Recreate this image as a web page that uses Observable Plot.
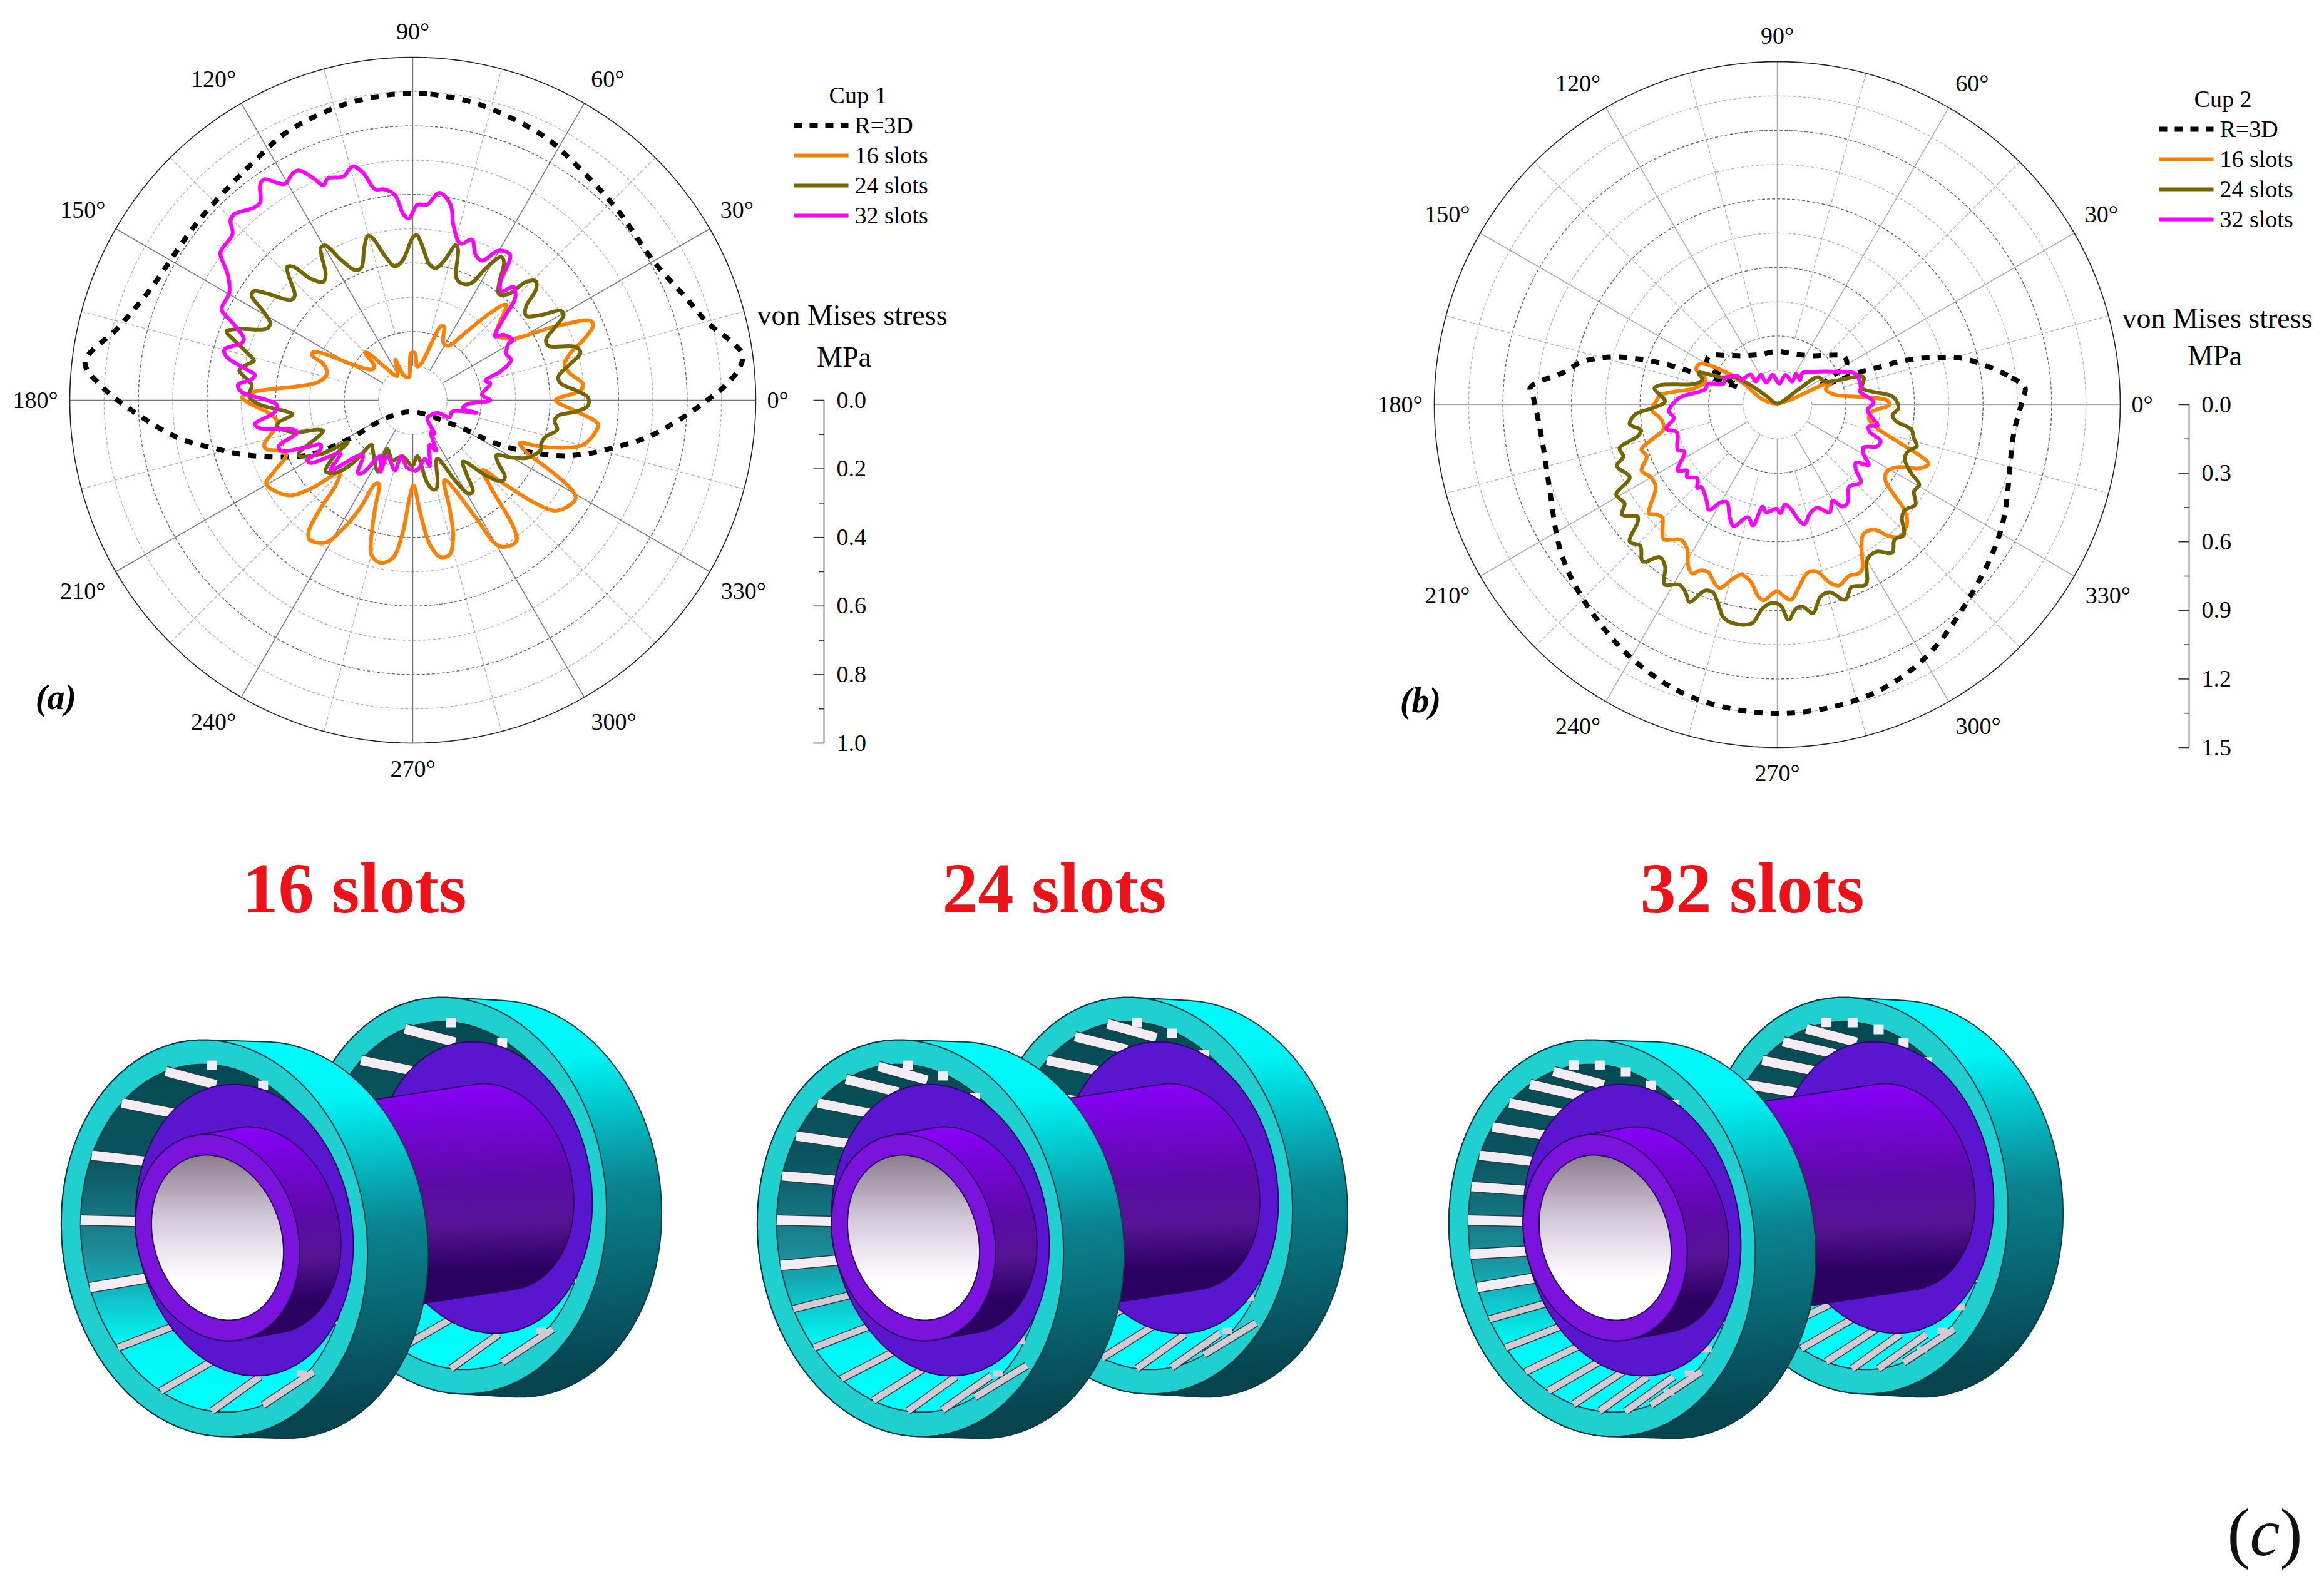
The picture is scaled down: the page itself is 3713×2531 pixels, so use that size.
<!DOCTYPE html>
<html><head><meta charset="utf-8">
<script src="https://cdn.jsdelivr.net/npm/d3@7"></script>
<script src="https://cdn.jsdelivr.net/npm/@observablehq/plot@0.6"></script>
<style>html,body{margin:0;padding:0;background:#fff;overflow:hidden}#fig{position:relative;width:3713px;height:2531px}#fig svg{position:absolute;display:block;overflow:visible}</style>
</head><body><div id="fig"></div>
<script>
// ---------- Cup 1 (panel a): angle in degrees, von Mises stress in MPa ----------
const cup1Names=["R=3D","16 slots","24 slots","32 slots"];
const cup1BaseAngle=[90,86.7,77.2,64,56.9,43.1,29.8,20.7,14.8,10.3,7.8,5.3,2.3,0,356.3,351.1,346.7,342.3,338.7,333.1,329.3,270,213.9,211.1,207.3,198.7,193.4,189.1,182,177.7,173.4,166,157.1,139.6,122.2,115.1,103.9,94.9];
const cup1BaseStress=[.894,.894,.884,.86,.84,.815,.811,.85,.888,.946,.971,.953,.905,.858,.788,.694,.602,.52,.444,.292,.143,.034,.092,.227,.351,.502,.6,.693,.821,.903,.962,.883,.831,.815,.84,.864,.884,.893];
const cup1S16Angle=[177.1,169.1,162.9,157.9,156.1,154.2,152.2,148.5,142.4,138,135.2,133.5,130.8,122.4,113.4,110.3,100.2,92,87.5,82.4,77.2,69.2,67.2,61.9,57.1,51.9,48.3,45.6,38,32,27.7,24.1,22.4,19.4,16.7,13,9.5,5.6,3.4,0,356.5,352.7,350,345.3,342.8,339.9,338.2,335.4,333.1,330.8,329,324.9,321.9,319.8,317.5,315,311.7,308.4,306.3,301.9,299.7,298.3,291.6,288.8,286.6,283.3,279.7,276.7,273.6,270.5,268.2,265.6,262.7,258.7,255.1,252.8,250.7,247.9,245.7,244,241.1,238.5,233.5,231.6,229.5,227.8,224.7,220.9,217.4,209.7,207.2,203.3,200.6,198.5,196.7,191,188.8,185,181,179.1];
const cup1S16Stress=[.468,.281,.262,.282,.321,.322,.287,.188,.148,.152,.196,.19,.135,.084,.129,.078,.068,.138,.138,.099,.109,.231,.234,.189,.189,.254,.344,.39,.31,.338,.455,.568,.568,.526,.48,.454,.466,.498,.49,.417,.469,.544,.54,.513,.467,.391,.336,.363,.443,.527,.554,.545,.521,.461,.361,.288,.344,.473,.51,.504,.478,.393,.25,.332,.412,.464,.463,.423,.323,.248,.281,.388,.464,.483,.468,.405,.333,.263,.268,.349,.437,.487,.506,.489,.413,.335,.301,.393,.456,.492,.455,.402,.418,.45,.453,.405,.4,.422,.478,.498];
const cup1S24Angle=[159.7,157.7,154,151.7,149.4,147,145.5,143.6,140.5,138.4,134.9,133.3,131.8,130,127,124.7,122.3,121.1,119.4,117.2,113.8,111.1,107.7,105.3,103.9,100.9,97.6,94.2,89.8,88.5,86.6,82.9,80.1,77.3,74.5,73.3,70.1,66.1,63.3,60.9,58.3,56.6,53.4,51,47.9,46.3,44,41.9,39.6,36.8,33.6,31.2,29.4,26.9,24.3,21.9,18.1,15.8,13,9.2,6.5,3.5,.9,358.2,356,353.9,351.6,348.5,344.7,341.4,339.1,333.7,329.8,326.7,324.1,320.2,317.6,314.7,309.2,306,303.4,301,298.1,292.5,285.7,283,279.9,274.6,269.6,259.6,251.4,242.6,243.9,230.7,227.3,226.3,223.3,219.3,215.7,212.8,210.7,206.3,205,199,197.3,195.1,191,189.4,186.7,185.1,181.5,178.6,174.5,170.4,169.3,166.8,166.1,163.4,161.4];
const cup1S24Stress=[.579,.547,.475,.472,.504,.56,.562,.522,.46,.46,.513,.534,.522,.462,.433,.446,.497,.519,.518,.462,.414,.415,.466,.497,.487,.428,.394,.408,.477,.481,.453,.398,.391,.417,.469,.459,.376,.37,.383,.443,.491,.483,.421,.399,.418,.477,.499,.482,.428,.412,.449,.504,.505,.46,.426,.426,.5,.508,.472,.43,.434,.476,.511,.511,.476,.426,.418,.43,.402,.395,.4,.377,.332,.292,.305,.35,.35,.315,.231,.267,.318,.318,.272,.185,.263,.268,.244,.164,.191,.166,.185,.161,.232,.185,.177,.253,.309,.328,.286,.225,.304,.368,.367,.276,.289,.36,.402,.396,.353,.37,.449,.478,.472,.513,.508,.483,.477,.513,.55];
const cup1S32Angle=[317.4,332.5,335.4,343.9,348.8,350.7,355.6,0,4.6,12.2,15.1,18.4,22.4,26.1,30.8,31,35.7,37.9,42.1,44.9,48.3,50.9,53.3,56.2,60.1,63.7,66.7,69.8,73,76.9,79.1,82.7,85.8,88.7,91.3,92.9,95,97.8,100.1,102.4,104.4,107.3,110.9,112.6,113.9,116.4,118,120.6,124,125.4,127.6,129.5,133.9,135.4,137.3,141.7,142.7,146,149.6,154.6,156.6,160,161.5,165,166.9,169.2,171,172.6,175,177.2,180,182.3,185.2,188.5,190.2,193.9,195.6,198.9,201,203.7,205.9,208.4,209.6,211.6,216.3,220.4,227.4,233,235.4,239.8,245.5,245.6,255.7,258.2,265.3,273.6,281.6,284.4,290.7,294.5,299.4,302.7,308.4];
const cup1S32Stress=[.067,.08,.118,.119,.19,.148,.157,.226,.202,.231,.219,.272,.31,.304,.326,.34,.327,.304,.358,.421,.442,.409,.427,.51,.503,.454,.462,.499,.477,.523,.581,.61,.572,.57,.53,.543,.601,.621,.625,.68,.704,.683,.693,.679,.705,.748,.748,.733,.777,.769,.729,.728,.752,.747,.715,.71,.706,.65,.62,.617,.575,.524,.526,.569,.557,.501,.466,.474,.512,.5,.424,.395,.407,.465,.456,.358,.35,.413,.411,.344,.298,.309,.354,.349,.262,.315,.216,.266,.257,.189,.229,.179,.211,.167,.197,.204,.175,.197,.139,.162,.108,.116,.068];
// ---------- Cup 2 (panel b) ----------
const cup2BaseAngle=[3.9,7.2,13,14.9,16.6,18.3,19.5,20.1,21.5,21.8,23.3,27.4,29.7,35.9,44,56,72.4,90,108,125.6,136.4,144.8,150.4,155.4,156.9,157.7,159.1,159.8,160.8,162.1,163.6,165.7,168.1,171.2,176.1,178.4,189.4,199,214.7,226.3,240.5,253.8,270,286.5,299.8,315.1,331,353.1,1.5];
const cup2BaseStress=[1.086,1.015,.865,.801,.719,.636,.556,.474,.392,.296,.207,.271,.349,.36,.311,.258,.232,.232,.231,.263,.313,.366,.35,.185,.232,.317,.404,.487,.575,.656,.737,.817,.885,.94,1.083,1.067,1.04,1.057,1.148,1.208,1.281,1.333,1.351,1.335,1.285,1.19,1.12,1.042,1.075];
const cup2S16Angle=[90,23.7,22.7,17.5,9.7,5.3,2.3,0,355.3,351.2,346.9,342.6,340.2,338.6,336.1,332.4,328.5,325,322.2,320.5,317.9,312.9,310.4,307.7,303.7,300.7,297.3,295.6,292.7,288.8,286.4,283.3,280.3,276.6,274,271.7,270,267.8,266,264.4,261.4,258.1,255.9,252.5,250.5,247.4,245,243.3,241.1,237.9,234.4,229.9,227.7,224.5,222.1,220.2,218.3,214.1,209.8,205.9,201.6,198.3,195.3,192,186.9,182.5,178.5,175.2,168.7,162.3,158.7,156.5,152.2,146.8,148.5,160];
const cup2S16Stress=[.005,.226,.261,.222,.256,.367,.479,.49,.412,.405,.446,.562,.666,.71,.686,.591,.561,.577,.649,.717,.766,.787,.756,.691,.68,.72,.81,.819,.812,.836,.811,.75,.746,.807,.856,.835,.816,.836,.858,.844,.782,.76,.782,.841,.826,.791,.8,.827,.806,.743,.726,.771,.747,.705,.716,.737,.706,.642,.638,.66,.614,.626,.563,.508,.513,.549,.531,.511,.368,.332,.344,.387,.382,.228,.157,.07];
const cup2S24Angle=[90,35.8,34,26,22,17.7,11,8,3.8,358.5,354.6,352.1,349.4,346,343.4,340.1,336.7,332.8,330.6,327.6,324.1,320.4,317.8,314.1,311,307.8,304,300.2,296.2,292.2,289.2,285.6,282.7,279.7,277.1,275.2,273,270.9,268.3,265.8,263.4,258.7,255.8,253.4,251.1,248.8,246,244,241.4,238,235.2,232.4,229.4,225.9,222.9,220.1,218.7,215.3,212.9,209.2,206.2,201,198.6,195.5,192.5,190.4,187.6,184,181.5,178.4,172.4,170.4,165.9,161.4,158,154.1,147.9,143.5,141.7];
const cup2S24Stress=[.005,.115,.215,.23,.284,.396,.378,.415,.508,.53,.506,.524,.597,.616,.637,.606,.607,.66,.713,.708,.746,.724,.736,.795,.782,.82,.776,.783,.877,.861,.904,.852,.861,.925,.89,.897,.942,.878,.869,.895,.963,.976,.96,.907,.868,.872,.945,.914,.896,.928,.86,.842,.904,.861,.881,.798,.783,.832,.795,.807,.719,.751,.71,.716,.62,.609,.651,.623,.543,.491,.542,.516,.372,.345,.371,.275,.226,.138,.055];
const cup2S32Angle=[144.3,145,131.6,132.9,118.6,117,98.7,85,74.5,57.2,58.5,47.5,51.6,41.8,30.9,21.3,11.2,9.2,1.4,356.5,348.3,346.5,343.5,340.7,337.5,333.6,330.2,326.6,323.5,320.5,317,311.2,306,302.7,299.8,296,291,286.9,282.7,280.5,277.4,274.4,271.7,269.6,264,261.8,258.6,255.4,250.2,247.1,242.8,240,237,233.4,227.2,226.2,222.6,218.7,216.1,213.5,206.9,204.4,195.3,192.3,187.3,183.5,176.1,168,163.3,158.9,153.4];
const cup2S32Stress=[.214,.192,.176,.138,.15,.108,.132,.093,.135,.12,.157,.147,.177,.216,.281,.368,.372,.365,.422,.395,.448,.411,.422,.478,.475,.421,.434,.479,.427,.445,.499,.477,.526,.53,.485,.523,.483,.496,.536,.513,.46,.438,.475,.456,.473,.451,.539,.509,.564,.535,.48,.493,.549,.52,.49,.506,.476,.506,.489,.522,.455,.478,.456,.497,.456,.475,.43,.323,.317,.253,.257];
// ---------- Axes and labels ----------
const angleTicks=d3.range(0,360,30);
const minorAngles=d3.range(15,360,30);
const angleLabelX=[1.064,.945,.568,0,-.581,-.962,-1.10,-.962,-.581,0,.586,.964];
const angleLabelY=[0,.554,.935,1.075,.935,.554,0,-.557,-.938,-1.075,-.938,-.557];
const cup1RadialLabels=["0.0","0.2","0.4","0.6","0.8","1.0"];
const cup2RadialLabels=["0.0","0.3","0.6","0.9","1.2","1.5"];
const seriesColors=["#000000","#ff8000","#736600","#ff00ff"];
const titles=["16 slots","24 slots","32 slots"];
const slotCounts=[16,24,32];
const FONT='"Liberation Serif","Times New Roman",serif';
const rad=d=>d*Math.PI/180;
const zip=(a,s)=>a.map((t,i)=>({t,r:s[i]}));

function panel(c){
  const unit=548/c.rMax, X=p=>(p-c.cx)/unit, Y=p=>(c.cy-p)/unit, R=c.rMax;
  const ringPts=f=>f.flatMap(k=>d3.range(0,361,2).map(a=>({k,x:k*R*Math.cos(rad(a)),y:k*R*Math.sin(rad(a))})));
  const px=d=>d.r*Math.cos(rad(d.t)), py=d=>d.r*Math.sin(rad(d.t));
  const spoke=(list,from,opts)=>Plot.link(list,{x1:a=>from*R*Math.cos(rad(a)),y1:a=>from*R*Math.sin(rad(a)),x2:a=>R*Math.cos(rad(a)),y2:a=>R*Math.sin(rad(a)),...opts});
  const tickVals=d3.range(0,11).map(i=>i*R/10);
  const marks=[
    Plot.line(ringPts([.1,.3,.5,.7,.9]),{x:"x",y:"y",z:"k",stroke:"#b4b4b4",strokeWidth:1.4,strokeDasharray:"5,3",strokeLinecap:"butt"}),
    Plot.line(ringPts([.2,.4,.6,.8]),{x:"x",y:"y",z:"k",stroke:"#666",strokeWidth:1.4,strokeDasharray:"5,3",strokeLinecap:"butt"}),
    spoke(minorAngles,.2,{stroke:"#b4b4b4",strokeWidth:1.4,strokeDasharray:"6,3",strokeLinecap:"butt"}),
    spoke(angleTicks,.1,{stroke:c.spoke,strokeWidth:1.5}),
    Plot.line(ringPts([1]),{x:"x",y:"y",stroke:"#222",strokeWidth:1.6}),
    Plot.text(angleTicks,{x:(a,i)=>angleLabelX[i]*R,y:(a,i)=>angleLabelY[i]*R,text:a=>a+"°",fontSize:38,fontFamily:FONT,lineAnchor:"middle",fill:"#000"}),
    // radial axis
    Plot.ruleX([X(c.axisX)],{y1:0,y2:-R,stroke:"#333",strokeWidth:1.6}),
    Plot.link(tickVals,{x1:X(c.axisX),x2:(d,i)=>X(c.axisX-(i%2?8:17)),y1:d=>-d,y2:d=>-d,stroke:"#333",strokeWidth:1.6}),
    Plot.text(c.radial,{x:X(c.axisX+20),y:d=>-(+d),text:d=>d,textAnchor:"start",fontSize:38,fontFamily:FONT,lineAnchor:"middle",fill:"#000"}),
    Plot.text(["von Mises stress"],{x:X(c.vmX),y:Y(c.vmY),text:d=>d,fontSize:46,fontFamily:FONT,lineAnchor:"middle",fill:"#000"}),
    Plot.text(["MPa"],{x:X(c.mpaX),y:Y(c.mpaY),text:d=>d,fontSize:46,fontFamily:FONT,lineAnchor:"middle",fill:"#000"}),
    Plot.text([c.tag],{x:X(c.tagX),y:Y(c.tagY),text:d=>d,fontSize:56,fontFamily:FONT,fontWeight:"bold",fontStyle:"italic",lineAnchor:"middle",fill:"#000"}),
    // curves
    Plot.line(zip(c.base[0],c.base[1]),{x:px,y:py,stroke:seriesColors[0],strokeWidth:8,strokeDasharray:"13,13",strokeLinecap:"butt",curve:"catmull-rom-closed"}),
    ...c.curves.map((s,i)=>Plot.line(zip(s[0],s[1]),{x:px,y:py,stroke:seriesColors[i+1],strokeWidth:6,curve:"catmull-rom-closed",strokeLinejoin:"round"})),
    // legend
    Plot.text([c.legend],{x:X(c.legX+102),y:Y(c.legY-48),text:d=>d,fontSize:38,fontFamily:FONT,lineAnchor:"middle",fill:"#000"}),
    ...cup1Names.map((n,i)=>Plot.link([n],{x1:X(c.legX),x2:X(c.legX+87),y1:Y(c.legY+48*i),y2:Y(c.legY+48*i),stroke:seriesColors[i],strokeWidth:i?6:8,strokeLinecap:"butt",strokeDasharray:i?null:"13,12"})),
    Plot.text(cup1Names,{x:X(c.legX+97),y:(d,i)=>Y(c.legY+48*i),text:d=>d,textAnchor:"start",fontSize:38,fontFamily:FONT,lineAnchor:"middle",fill:"#000"})
  ];
  const svg=Plot.plot({width:c.w,height:c.h,margin:0,
    x:{domain:[X(c.left),X(c.left+c.w)],range:[0,c.w],axis:null},
    y:{domain:[Y(c.top),Y(c.top+c.h)],range:[0,c.h],axis:null},
    style:{fontFamily:FONT,background:"transparent",overflow:"visible"},marks});
  svg.style.left=c.left+"px";svg.style.top=c.top+"px";
  return svg;
}

const fig=document.getElementById("fig");
fig.append(panel({cx:659,cy:639,left:0,top:0,w:1856,h:1260,rMax:1,spoke:"#777",radial:cup1RadialLabels,axisX:1316,
  vmX:1361,vmY:504,mpaX:1348,mpaY:571,tag:"(a)",tagX:89,tagY:1115,legend:"Cup 1",legX:1268,legY:200,
  base:[cup1BaseAngle,cup1BaseStress],curves:[[cup1S16Angle,cup1S16Stress],[cup1S24Angle,cup1S24Stress],[cup1S32Angle,cup1S32Stress]]}));
fig.append(panel({cx:2839,cy:646,left:1856,top:0,w:1857,h:1260,rMax:1.5,spoke:"#aaa",radial:cup2RadialLabels,axisX:3497,
  vmX:3542,vmY:509,mpaX:3538,mpaY:569,tag:"(b)",tagX:2269,tagY:1120,legend:"Cup 2",legX:3449,legY:206,
  base:[cup2BaseAngle,cup2BaseStress],curves:[[cup2S16Angle,cup2S16Stress],[cup2S24Angle,cup2S24Stress],[cup2S32Angle,cup2S32Stress]]}));

// ---------- Panel (c): three slotted-cup assemblies ----------
const ell=(cx,cy,rx,ry,sk=-18)=>d3.range(0,361,4).map(a=>[cx+rx*Math.cos(rad(a))+sk*Math.sin(rad(a)),cy-ry*Math.sin(rad(a))]);
const hull=(a,b)=>{const h=d3.polygonHull(a.concat(b));h.push(h[0]);return h;};
const shape=(pts,fill,stroke="#0b3a40")=>Plot.line(pts,{x:d=>d[0],y:d=>d[1],fill,stroke,strokeWidth:2});
function slots(cx,cy,n){
  const rows=d3.range(n).map(i=>{
    const a=174+360*i/n, c=Math.cos(rad(a)), s=Math.sin(rad(a));
    const x=cx+213*c-18*s, y=cy-278*s;
    const long=(s>0&&c<-.1)||(s<=0&&c<.45);
    const dx=long?75+20*Math.abs(c):-16, dy=!long?0:(s>0?-.08:-.2)*(y-cy);
    return {x,y,x2:x+dx,y2:y+dy,long,low:s<-.3};
  });
  const up=rows.filter(d=>!d.low), low=rows.filter(d=>d.low);
  const link=(list,stroke,strokeWidth)=>Plot.link(list,{x1:"x",y1:"y",x2:"x2",y2:"y2",stroke,strokeWidth,strokeLinecap:"butt"});
  return [
    link(up.filter(d=>d.long),"#2b3b40",18), link(up,"#f1edf3",15),
    link(low.filter(d=>d.long),"#2b3b40",13), link(low,"#d2cbd4",10)
  ];
}
function assembly(dx,extra,n){
  const fc=[342+dx,1978], rc=[724+dx+extra,1910], rd=dx+extra;
  return [
    shape(hull(ell(rc[0],rc[1],244,317),ell(rc[0]+88,rc[1]+5,244,317)),"url(#cupOuter)"),
    shape(ell(rc[0],rc[1],244,317),"#20cfd0"),
    shape(ell(rc[0],rc[1],213,278),"url(#cupInner)"),
    ...slots(rc[0],rc[1],n),
    shape(ell(772+rd,1897,173,233),"#5a16cf","#2a0a60"),
    shape(hull(ell(790+rd,1896,125,165),ell(560+rd,1931,125,165)),"url(#shaft)","#2a0a60"),
    shape(hull(ell(fc[0],fc[1],244,317),ell(fc[0]+97,fc[1]+3,244,317)),"url(#cupOuter)"),
    shape(ell(fc[0],fc[1],244,317),"#20cfd0"),
    shape(ell(fc[0],fc[1],213,278),"url(#cupInner)"),
    ...slots(fc[0],fc[1],n),
    shape(ell(390+dx,1965,173,233),"#5a16cf","#2a0a60"),
    shape(hull(ell(347+dx,1977,130,165),ell(415+dx,1965,128,165)),"url(#shaft)","#2a0a60"),
    shape(ell(347+dx,1977,130,165),"#7a14dc","#2a0a60"),
    shape(ell(347+dx,1977,104,132),"url(#bore)","#2a0a60")
  ];
}
const defs=()=>{const g=document.createElementNS("http://www.w3.org/2000/svg","defs");
  g.innerHTML=`<linearGradient id="cupOuter" x1="0" y1="0" x2="0.1" y2="1"><stop offset="0" stop-color="#00ffff"/><stop offset=".22" stop-color="#00f4f6"/><stop offset=".55" stop-color="#0a8390"/><stop offset="1" stop-color="#064450"/></linearGradient>
  <linearGradient id="cupInner" x1="0" y1="0" x2="0" y2="1"><stop offset="0" stop-color="#044a52"/><stop offset=".28" stop-color="#0b5560"/><stop offset=".55" stop-color="#1d8e9a"/><stop offset=".8" stop-color="#00f6f6"/><stop offset="1" stop-color="#00ffff"/></linearGradient>
  <linearGradient id="shaft" x1="0" y1="0" x2="0.05" y2="1"><stop offset="0" stop-color="#8b00ff"/><stop offset=".45" stop-color="#5c0aa8"/><stop offset=".65" stop-color="#561494"/><stop offset=".85" stop-color="#2a0060"/><stop offset="1" stop-color="#2a0060"/></linearGradient>
  <linearGradient id="bore" x1="0" y1="0" x2="0" y2="1"><stop offset="0" stop-color="#8b7d8c"/><stop offset=".4" stop-color="#d6cbdc"/><stop offset=".75" stop-color="#ffffff"/><stop offset="1" stop-color="#ffffff"/></linearGradient>`;
  return g;};
const assemblyShift=[0,1112,2217];
const rearShift=[0,-16,22];
const titleX=[566,1684,2799];
const lower=Plot.plot({width:3713,height:1271,margin:0,
  x:{domain:[0,3713],range:[0,3713],axis:null},
  y:{domain:[1260,2531],range:[0,1271],axis:null},
  style:{fontFamily:FONT,background:"transparent"},
  marks:[defs,
    ...slotCounts.flatMap((n,i)=>assembly(assemblyShift[i],rearShift[i],n)),
    Plot.text(titles,{x:(d,i)=>titleX[i],y:1421,text:d=>d,fontSize:114,fontWeight:"bold",fontFamily:FONT,lineAnchor:"middle",fill:"#ec1218"}),
    Plot.text(["(c)"],{x:3618,y:2450,text:d=>d,fontSize:108,fontFamily:FONT,lineAnchor:"middle",fill:"#111"})
  ]});
lower.style.left="0px";lower.style.top="1260px";
fig.append(lower);
// the letter in (c) is italic between upright brackets
const cTag=[...lower.querySelectorAll("text")].find(t=>t.textContent==="(c)");
if(cTag){cTag.textContent="(";const sp=document.createElementNS("http://www.w3.org/2000/svg","tspan");sp.setAttribute("font-style","italic");sp.textContent="c";cTag.append(sp,")");}
</script></body></html>
